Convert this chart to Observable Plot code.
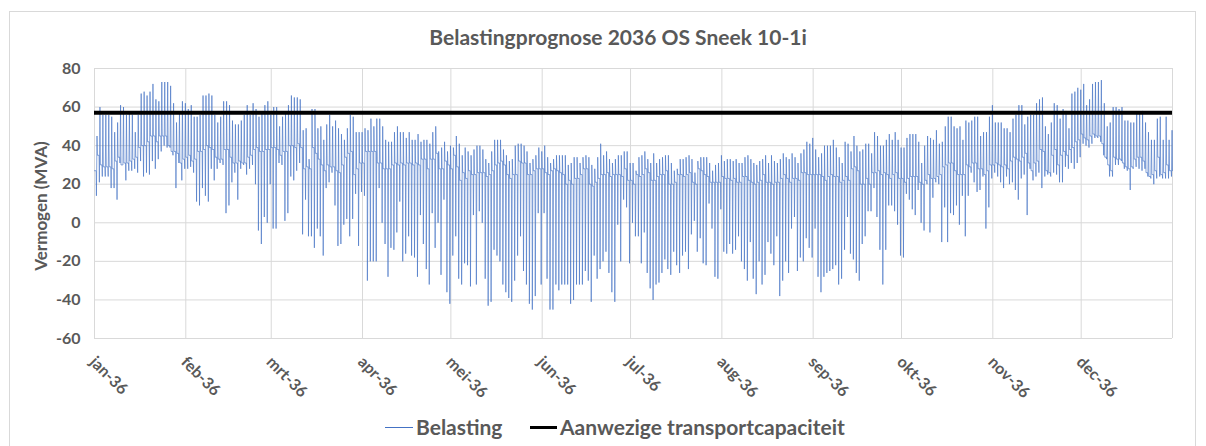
<!DOCTYPE html>
<html><head><meta charset="utf-8">
<script src="https://cdn.jsdelivr.net/npm/d3@7"></script>
<script src="https://cdn.jsdelivr.net/npm/@observablehq/plot@0.6"></script>
<style>
body{margin:0;background:#fff;}
#wrap{position:relative;width:1206px;height:446px;overflow:hidden;font-family:Lato,"Open Sans",sans-serif;color:#595959;}
#frame{position:absolute;left:9px;top:11px;width:1187px;height:460px;border:1px solid #d9d9d9;box-sizing:border-box;}
#chart{position:absolute;left:0;top:0;}
#title{position:absolute;left:618px;top:24px;transform:translateX(-50%);white-space:nowrap;font-weight:bold;font-size:21px;line-height:26px;}
#ytitle{position:absolute;left:40px;top:206px;transform:translate(-50%,-50%) rotate(-90deg);white-space:nowrap;font-weight:bold;font-size:17px;}
.leg{position:absolute;top:414px;font-weight:bold;font-size:21px;line-height:26px;white-space:nowrap;}
.sw{position:absolute;}
</style></head>
<body>
<div id="wrap">
  <div id="frame"></div>
  <div id="chart"></div>
  <div id="title"></div>
  <div id="ytitle"></div>
  <div class="sw" style="left:385px;top:427px;width:28px;height:1px;background:#4472c4"></div>
  <div class="leg" id="leg1" style="left:416px"></div>
  <div class="sw" style="left:530px;top:426px;width:27px;height:3px;background:#000"></div>
  <div class="leg" id="leg2" style="left:560px"></div>
</div>
<script>
const titleText = "Belastingprognose 2036 OS Sneek 10-1i";
const yTitle = "Vermogen (MVA)";
const seriesNames = ["Belasting", "Aanwezige transportcapaciteit"];
const monthLabels = ["jan-36","feb-36","mrt-36","apr-36","mei-36","jun-36","jul-36","aug-36","sep-36","okt-36","nov-36","dec-36"];
const yTicks = [-60,-40,-20,0,20,40,60,80];
const capacity = 57;

// daily maximum load (MVA), one line per month
const dailyMax = [
 45,60,56,56,56,55,47,52,61,60,56,57,56,47,56,67,68,66,68,72,64,63,73,73,73,71,62,52,57,63,62,
 59,61,55,55,56,66,66,67,66,56,52,55,63,63,61,53,51,51,53,56,61,56,62,59,55,57,61,63,56,
 60,60,50,55,57,61,66,65,65,64,48,49,33,59,59,49,50,43,51,56,50,53,49,46,43,49,56,55,47,47,47,
 49,48,54,50,54,54,50,43,42,42,47,50,47,47,44,47,43,43,46,42,43,43,41,47,50,37,39,42,37,40,
 39,45,41,35,39,37,35,38,40,40,38,33,31,37,43,43,43,38,35,32,33,40,41,41,40,37,31,33,35,39,37,
 40,34,31,33,35,35,35,35,30,31,34,34,31,34,35,34,30,28,34,41,35,37,33,31,33,35,35,37,37,31,
 31,27,34,35,37,33,31,36,31,33,34,35,35,31,27,28,33,33,34,35,33,26,32,34,34,34,31,27,30,31,35,
 32,33,33,32,33,31,31,34,35,33,31,30,32,33,35,31,35,32,31,33,36,34,33,36,34,31,36,38,42,41,44,
 38,34,36,40,40,40,43,39,34,31,42,41,37,45,40,37,38,41,41,36,47,45,40,40,43,46,43,47,43,39,
 39,44,46,46,46,42,31,40,45,44,43,48,41,42,50,55,55,50,49,50,43,53,52,53,55,55,45,47,47,55,61,
 52,52,52,49,49,47,54,56,61,61,51,55,56,56,62,64,65,50,46,52,62,61,54,59,58,49,67,68,70,69,
 72,61,64,72,73,73,74,62,50,52,60,60,59,60,53,53,52,52,57,57,58,52,47,43,43,54,55,43,55,43,48
];
// daily minimum load (MVA)
const dailyMin = [
 14,21,24,24,24,18,18,12,31,30,22,27,27,28,26,32,24,26,25,32,28,33,37,40,39,39,35,18,31,22,28,
 28,29,26,11,9,18,14,11,28,22,28,31,30,5,9,21,26,12,28,30,25,28,30,20,-4,-11,3,0,20,
 -3,-3,31,30,1,5,24,22,27,31,-6,12,-7,-7,-13,-3,-7,-17,18,21,26,9,-12,-11,-1,2,-7,2,15,-12,16,
 14,-30,-20,-20,-20,18,0,-11,-28,-13,-14,-5,11,-20,-16,-7,-17,-18,-28,4,-11,-24,-32,5,-13,0,-27,12,-36,-42,
 -17,-7,-29,-32,-21,-22,-33,4,-32,6,0,-29,-43,-41,-14,-17,-20,-32,-36,-39,-41,-30,-17,-7,-25,-32,-42,-45,-38,5,-32,
 5,-29,-45,-45,-32,-35,-32,-32,-32,-42,-40,-32,-32,-32,-25,-30,-41,-17,-29,-24,-20,-15,-26,-36,-41,-1,-20,12,8,-21,
 0,-7,-7,-21,-5,-26,-34,-40,-32,-31,-26,-19,-24,-27,-15,-22,-26,-17,-15,-24,-6,1,-15,-8,-21,-22,10,-3,-28,-29,7,
 -15,-16,-11,-16,-14,-7,-20,-24,-30,-10,-29,-37,-20,-32,-27,-10,-16,-22,-7,-38,-30,-20,-26,-3,3,-25,-18,-20,-8,-13,-18,
 -3,-28,-36,-28,-26,-25,-24,-22,-32,-29,-14,3,-16,-19,-26,-30,-11,-7,6,6,18,3,-14,-32,-14,9,9,6,-1,-17,
 -18,15,12,7,4,17,0,-4,20,-5,13,21,20,-10,8,-10,5,4,9,-1,14,-7,14,26,21,16,17,24,-3,8,23,
 26,24,21,18,24,20,21,17,12,23,25,4,28,22,24,26,18,24,25,24,26,25,21,21,29,28,31,28,31,34,
 41,40,39,41,44,44,42,35,33,24,24,30,30,32,28,27,17,28,29,28,27,28,24,23,20,23,24,23,23,23,24
];
// daily base (night plateau) load (MVA)
const dailyBase = [
 27,35,30,29,29,29,28,32,34,30,31,31,32,33,34,39,40,40,42,45,45,42,45,45,45,40,37,37,36,31,33,
 34,35,32,33,37,37,38,40,39,38,34,33,33,38,38,34,31,31,32,31,31,34,35,38,39,37,37,38,38,
 39,39,38,35,37,37,40,40,39,41,39,28,29,28,39,36,33,30,27,30,29,29,27,26,30,34,36,37,25,28,31,
 31,37,37,37,37,31,31,28,28,28,30,31,30,31,30,31,31,30,31,30,33,33,28,33,33,36,28,28,32,30,
 28,35,29,22,26,23,27,25,25,26,26,26,24,25,27,30,31,32,30,25,23,25,25,32,31,31,25,25,27,28,28,
 28,26,25,27,28,27,26,25,20,22,20,23,23,25,28,28,20,19,21,23,25,25,26,24,25,25,25,24,28,22,
 22,20,25,24,25,28,26,22,22,24,25,25,27,20,20,21,25,25,24,25,26,21,20,28,27,25,24,21,21,21,21,
 24,23,23,22,23,21,21,24,24,22,21,20,21,22,25,21,21,20,21,21,23,25,23,21,23,23,22,26,26,25,25,
 25,25,25,24,22,24,25,24,24,21,22,24,22,28,29,27,20,20,23,20,26,26,27,25,26,25,23,25,26,23,
 23,21,23,24,24,24,21,20,22,25,23,23,24,25,29,30,31,31,27,25,25,25,30,29,31,31,28,28,25,27,30,
 30,31,30,29,30,28,32,34,33,32,34,36,31,27,31,32,38,37,27,26,35,38,30,35,37,35,38,39,42,43,
 46,44,43,45,46,45,45,41,34,30,27,34,33,33,31,29,28,29,33,34,34,32,26,24,25,27,34,25,26,30,27
];

document.getElementById("title").textContent = titleText;
document.getElementById("ytitle").textContent = yTitle;
document.getElementById("leg1").textContent = seriesNames[0];
document.getElementById("leg2").textContent = seriesNames[1];

const start = Date.UTC(2036,0,1);
const DAY = 864e5;
const toDate = t => new Date(start + t*DAY);
const monthStarts = d3.range(12).map(m => new Date(Date.UTC(2036,m,1)));
const gridXs = monthStarts.concat([new Date(Date.UTC(2037,0,1))]);

// hourly-like profile per day built from the daily values
const points = [];
dailyMax.forEach((mx, i) => {
  points.push({t: toDate(i), v: dailyBase[i]});
  points.push({t: toDate(i+0.55), v: dailyBase[i]});
  points.push({t: toDate(i+0.65), v: dailyMin[i]});
  points.push({t: toDate(i+0.85), v: mx});
});
points.push({t: toDate(dailyMax.length), v: dailyBase[dailyBase.length-1]});

const chart = Plot.plot({
  width: 1206, height: 446,
  marginLeft: 94, marginRight: 34, marginTop: 68, marginBottom: 108,
  x: {type: "utc", domain: [new Date(start), new Date(Date.UTC(2037,0,1))], axis: null},
  y: {domain: [-60, 80], axis: null},
  style: {fontFamily: "Lato, 'Open Sans', sans-serif", background: "transparent", overflow: "visible"},
  marks: [
    Plot.gridY(yTicks, {stroke: "#d9d9d9", strokeOpacity: 1, strokeWidth: 1}),
    Plot.gridX(gridXs, {stroke: "#d9d9d9", strokeOpacity: 1, strokeWidth: 1}),
    Plot.axisY(yTicks, {tickSize: 0, tickPadding: 14, fontSize: 16, fontWeight: "bold", fill: "#595959", tickFormat: d => String(d), label: null}),
    Plot.line(points, {x: "t", y: "v", stroke: "#4472c4", strokeWidth: 0.65, curve: "linear"}),
    Plot.ruleY([capacity], {stroke: "#000", strokeWidth: 4}),
    Plot.text(monthStarts, {x: d => d, y: -60, text: (d, i) => monthLabels[i], rotate: 45, textAnchor: "start", lineAnchor: "middle", dx: -2, dy: 21, fontSize: 16, fontWeight: "bold", fill: "#595959"})
  ]
});
document.getElementById("chart").appendChild(chart);
</script>
</body></html>
